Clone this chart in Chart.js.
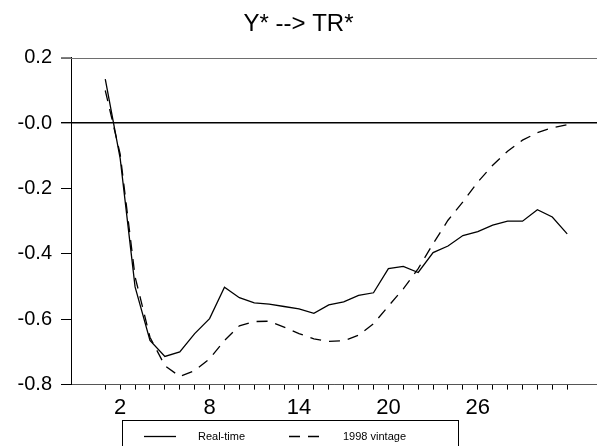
<!DOCTYPE html>
<html>
<head>
<meta charset="utf-8">
<title>Y* --> TR*</title>
<script src="https://cdn.jsdelivr.net/npm/chart.js@4.4.0/dist/chart.umd.min.js"></script>
<style>
    html, body { margin: 0; padding: 0; background: #fff; }
    #myChart { display: block; }
</style>
</head>
<body>
<canvas id="myChart" width="597" height="446"></canvas>
<script>
// response of TR* to a Y* shock, by horizon
const chartTitle = 'Y* --> TR*';
const steps = [1, 2, 3, 4, 5, 6, 7, 8, 9, 10, 11, 12, 13, 14, 15, 16,
               17, 18, 19, 20, 21, 22, 23, 24, 25, 26, 27, 28, 29, 30, 31, 32];
const realTime = [0.135, -0.108, -0.501, -0.665, -0.714, -0.700, -0.644, -0.598,
                  -0.502, -0.534, -0.550, -0.554, -0.561, -0.568, -0.582, -0.556,
                  -0.547, -0.527, -0.519, -0.445, -0.438, -0.457, -0.396, -0.376,
                  -0.344, -0.332, -0.312, -0.300, -0.300, -0.265, -0.287, -0.339];
const vintage1998 = [0.100, -0.095, -0.470, -0.655, -0.742, -0.775, -0.757, -0.721,
                     -0.665, -0.620, -0.607, -0.606, -0.624, -0.644, -0.660, -0.668,
                     -0.666, -0.649, -0.614, -0.560, -0.507, -0.445, -0.369, -0.297,
                     -0.241, -0.180, -0.129, -0.086, -0.052, -0.029, -0.014, -0.005];
const seriesNames = ['Real-time', '1998 vintage'];
const xTickLabels = ['2', '8', '14', '20', '26'];
const yTickValues = [0.2, 0, -0.2, -0.4, -0.6, -0.8];
const yTickLabels = ['0.2', '-0.0', '-0.2', '-0.4', '-0.6', '-0.8'];

const FONT = "'Liberation Sans', Arial, Helvetica, sans-serif";
const DASH = [11, 8];

function toPoints(vals) {
    return steps.map(function (s, i) { return { x: s, y: vals[i] }; });
}

function yLabelFor(v) {
    for (let k = 0; k < yTickValues.length; k++) {
        if (Math.abs(v - yTickValues[k]) < 1e-9) return yTickLabels[k];
    }
    return '';
}

// grey frame line along the top tick, run out over the tick mark
const topRule = {
    id: 'topRule',
    afterDraw: function (chart) {
        const c = chart.ctx;
        const a = chart.chartArea;
        const yTop = Math.round(chart.scales.y.getPixelForValue(yTickValues[0])) + 0.5;
        c.save();
        c.setLineDash([]);
        c.strokeStyle = '#6e6e6e';
        c.lineWidth = 1.2;
        c.beginPath();
        c.moveTo(a.left - 10, yTop);
        c.lineTo(a.right, yTop);
        c.stroke();
        c.restore();
    }
};

// boxed legend under the axis, like the old graph output
const boxLegend = {
    id: 'boxLegend',
    afterDraw: function (chart) {
        const c = chart.ctx;
        const sets = chart.data.datasets;
        c.save();
        c.strokeStyle = '#000';
        c.lineWidth = 1;
        c.strokeRect(122.5, 420.5, 336, 40);

        const y = 436.5;
        const items = [
            { x0: 144, x1: 176, tx: 198 },
            { x0: 289, x1: 321, tx: 343 }
        ];
        c.font = '11px ' + FONT;
        c.fillStyle = '#000';
        c.textBaseline = 'middle';
        items.forEach(function (it, i) {
            c.beginPath();
            c.setLineDash(sets[i].borderDash || []);
            c.lineWidth = sets[i].borderWidth;
            c.moveTo(it.x0, y);
            c.lineTo(it.x1, y);
            c.stroke();
            c.setLineDash([]);
            c.fillText(sets[i].label, it.tx, y);
        });
        c.restore();
    }
};

const ctx = document.getElementById('myChart');

new Chart(ctx, {
    type: 'line',
    data: {
        datasets: [{
            label: seriesNames[0],
            data: toPoints(realTime),
            borderColor: '#000',
            borderWidth: 1.3,
            pointRadius: 0,
            tension: 0,
            fill: false
        }, {
            label: seriesNames[1],
            data: toPoints(vintage1998),
            borderColor: '#000',
            borderWidth: 1.3,
            borderDash: DASH,
            pointRadius: 0,
            tension: 0,
            fill: false
        }]
    },
    options: {
        responsive: false,
        animation: false,
        devicePixelRatio: 1,
        layout: { padding: { left: 0, right: 0, top: 0, bottom: 20 } },
        plugins: {
            legend: { display: false },
            tooltip: { enabled: false },
            title: {
                display: true,
                text: chartTitle,
                color: '#000',
                font: { family: FONT, size: 24, weight: 'normal' },
                padding: { top: 10, bottom: 19 }
            }
        },
        scales: {
            x: {
                type: 'linear',
                min: -1.3,
                max: 34,
                afterBuildTicks: function (scale) {
                    scale.ticks = steps.map(function (v) { return { value: v }; });
                },
                ticks: {
                    autoSkip: false,
                    maxRotation: 0,
                    padding: 5,
                    color: '#000',
                    font: { family: FONT, size: 22 },
                    callback: function (v) {
                        return xTickLabels.indexOf(String(v)) >= 0 ? String(v) : '';
                    }
                },
                grid: {
                    drawOnChartArea: false,
                    drawTicks: true,
                    tickLength: 5,
                    color: '#000',
                    tickColor: '#000'
                },
                border: { display: true, color: '#555', width: 1 }
            },
            y: {
                min: -0.8,
                max: 0.2,
                afterBuildTicks: function (scale) {
                    scale.ticks = yTickValues.map(function (v) { return { value: v }; });
                },
                afterFit: function (scale) {
                    scale.width = 71;
                },
                ticks: {
                    padding: 9,
                    color: '#000',
                    font: { family: FONT, size: 20 },
                    callback: function (v) { return yLabelFor(v); }
                },
                grid: {
                    drawTicks: true,
                    tickLength: 10,
                    color: function (c) {
                        const v = c.tick ? c.tick.value : null;
                        if (v === 0) return '#000';
                        if (v === -0.8) return '#555';
                        return 'rgba(0,0,0,0)';
                    },
                    lineWidth: function (c) {
                        return c.tick && c.tick.value === 0 ? 1.4 : 1;
                    },
                    tickColor: function (c) {
                        return c.tick && c.tick.value === 0.2 ? '#808080' : '#000';
                    }
                },
                border: { display: true, color: '#000', width: 1 }
            }
        }
    },
    plugins: [topRule, boxLegend]
});
</script>
</body>
</html>
